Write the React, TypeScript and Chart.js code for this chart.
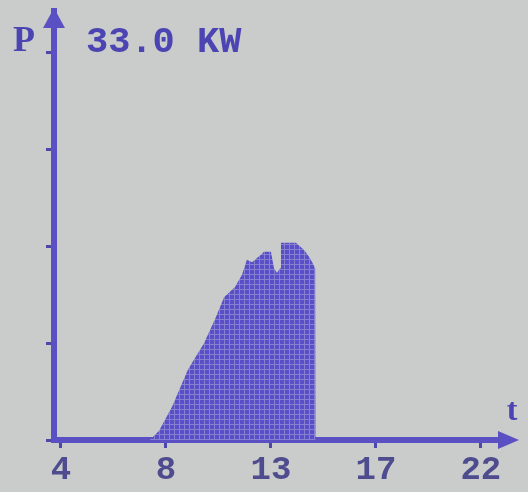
import React, { useEffect, useRef } from "react";
import { Chart, registerables } from "chart.js";

Chart.register(...registerables);

// time (hours) and power (kW) read from the LCD
const times = [7.8, 8.2, 8.76, 9.44, 10.13, 10.64, 10.99, 11.46, 11.76, 11.97, 12.19, 12.62, 12.7, 13.0, 13.13, 13.26, 13.39, 13.43, 14.07, 14.42, 14.67, 14.9, 14.92];
const power = [0, 1.5, 5.5, 11.6, 16.0, 20.3, 23.6, 25.3, 27.3, 29.8, 29.4, 30.8, 31.1, 31.1, 28.4, 27.6, 28.4, 32.6, 32.6, 31.4, 30.1, 28.4, 0];

const xTickValues = [4, 8.5, 13, 17.5, 22];
const xTickLabels = ["4", "8", "13", "17", "22"];
const yTickValues = [0, 16, 32, 48, 64];

const titleLetter = "P";
const titleValue = "33.0 KW";
const xAxisLetter = "t";

const PURPLE = "#5a50c4";
const BG = "#c9ccca";

export default function App() {
  const ref = useRef<HTMLCanvasElement | null>(null);

  useEffect(() => {
    const canvas = ref.current;
    if (!canvas) return;

    const tile = document.createElement("canvas");
    tile.width = 5;
    tile.height = 5;
    const tctx = tile.getContext("2d")!;
    tctx.fillStyle = "#8580cf";
    tctx.fillRect(0, 0, 5, 5);
    tctx.fillStyle = "#5a4fc6";
    tctx.fillRect(0, 0, 4, 4);
    const pattern = canvas.getContext("2d")!.createPattern(tile, "repeat");

    const decor = {
      id: "decor",
      beforeDraw(chart: any) {
        const c = chart.ctx;
        c.save();
        c.fillStyle = BG;
        c.fillRect(0, 0, chart.width, chart.height);
        c.restore();
      },
      afterDraw(chart: any) {
        const c = chart.ctx;
        const a = chart.chartArea;
        c.save();
        c.fillStyle = PURPLE;
        // y arrow
        c.fillRect(a.left - 3, a.top - 20, 6, 22);
        c.beginPath();
        c.moveTo(a.left, 8);
        c.lineTo(a.left + 11, 28);
        c.lineTo(a.left - 11, 28);
        c.closePath();
        c.fill();
        // x arrow
        c.fillRect(a.right - 2, a.bottom - 3, 4, 6);
        c.beginPath();
        c.moveTo(519, a.bottom);
        c.lineTo(a.right - 2, a.bottom - 9);
        c.lineTo(a.right - 2, a.bottom + 9);
        c.closePath();
        c.fill();
        // texts
        c.fillStyle = "#4c44b2";
        c.textBaseline = "alphabetic";
        c.textAlign = "left";
        c.font = "bold 36px 'Liberation Serif'";
        c.fillText(titleLetter, 13, 51);
        c.font = "bold 37px 'Liberation Mono'";
        c.fillText(titleValue, 86, 52);
        c.font = "bold 32px 'Liberation Serif'";
        c.textAlign = "center";
        c.fillText(xAxisLetter, 512, 420);
        c.restore();
      },
    };

    const chart = new Chart(canvas, {
      type: "line",
      data: {
        datasets: [
          {
            data: times.map((t, i) => ({ x: t, y: power[i] })),
            fill: "origin",
            backgroundColor: pattern || PURPLE,
            borderWidth: 0,
            pointRadius: 0,
            tension: 0,
          },
        ],
      },
      options: {
        animation: false,
        responsive: false,
        events: [],
        layout: { padding: { top: 28, right: 28, left: 0, bottom: 0 } },
        plugins: { legend: { display: false }, tooltip: { enabled: false } },
        scales: {
          x: {
            type: "linear",
            min: 3.7,
            max: 22.82,
            afterBuildTicks: (scale: any) => {
              scale.ticks = xTickValues.map((v) => ({ value: v }));
            },
            afterFit: (scale: any) => {
              scale.height = 52;
            },
            border: { display: true, color: PURPLE, width: 6 },
            grid: {
              drawOnChartArea: false,
              drawTicks: true,
              tickLength: 8,
              tickWidth: 3,
              tickColor: "#4c47a8",
            },
            ticks: {
              autoSkip: false,
              maxRotation: 0,
              padding: 2,
              color: "#4e4b8e",
              font: { family: "'Liberation Mono'", size: 34, weight: "bold" },
              callback: (_v: any, i: number) => xTickLabels[i],
            },
          },
          y: {
            type: "linear",
            min: 0,
            max: 68.1,
            afterBuildTicks: (scale: any) => {
              scale.ticks = yTickValues.map((v) => ({ value: v }));
            },
            afterFit: (scale: any) => {
              scale.width = 54;
            },
            border: { display: true, color: PURPLE, width: 6 },
            grid: {
              drawOnChartArea: false,
              drawTicks: true,
              tickLength: 8,
              tickWidth: 3,
              tickColor: "#4c47a8",
            },
            ticks: { display: false },
          },
        },
      },
      plugins: [decor],
    });

    return () => chart.destroy();
  }, []);

  return (
    <div style={{ position: "fixed", left: 0, top: 0, width: 528, height: 492, background: BG }}>
      <canvas ref={ref} width={528} height={492} style={{ display: "block" }} />
    </div>
  );
}
